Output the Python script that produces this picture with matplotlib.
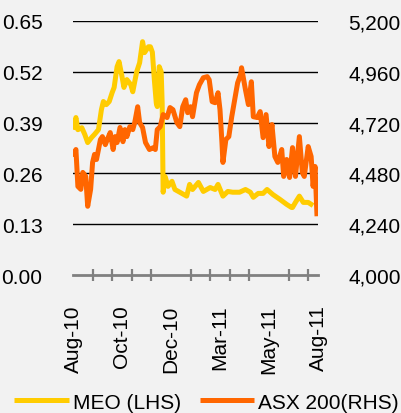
import matplotlib
matplotlib.use('Agg')
import matplotlib.pyplot as plt
import numpy as np

plt.rcParams['font.family'] = ['Liberation Sans', 'DejaVu Sans']

# trading-day index (0 = early Aug-10) and values
meo_day = [0, 3, 5, 9, 12, 15, 19, 22, 26, 29, 31, 34, 37, 40, 42, 45, 47, 50, 52, 55,
           59, 61, 65, 68, 71, 73, 77, 79, 81, 83, 85, 86, 87, 88, 90, 91, 92, 94, 97,
           101, 104, 109, 116, 119, 122, 128, 133, 140, 145, 148, 153, 158, 163, 170,
           176, 181, 184, 189, 194, 198, 204, 211, 218, 223, 224, 227, 231, 235, 240, 245]
meo_val = [0.372, 0.403, 0.372, 0.377, 0.360, 0.339, 0.352, 0.360, 0.372, 0.423, 0.444,
           0.436, 0.444, 0.467, 0.480, 0.533, 0.546, 0.508, 0.480, 0.500, 0.487, 0.469,
           0.520, 0.543, 0.597, 0.569, 0.584, 0.584, 0.570, 0.500, 0.440, 0.431, 0.470,
           0.533, 0.520, 0.440, 0.212, 0.252, 0.227, 0.240, 0.219, 0.212, 0.202, 0.232,
           0.219, 0.237, 0.214, 0.224, 0.219, 0.232, 0.202, 0.214, 0.212, 0.212, 0.219,
           0.212, 0.199, 0.209, 0.209, 0.219, 0.206, 0.194, 0.181, 0.173, 0.173, 0.186,
           0.202, 0.186, 0.186, 0.178]

asx_day = [0, 3, 5, 8, 10, 13, 15, 18, 20, 22, 24, 28, 30, 33, 35, 38, 41, 43, 45, 48,
           51, 53, 55, 58, 61, 63, 66, 68, 71, 74, 78, 82, 84, 86, 89, 92, 96, 99, 102,
           106, 109, 112, 115, 117, 120, 122, 126, 129, 133, 137, 139, 142, 145, 148,
           150, 152, 153, 156, 159, 162, 165, 168, 171, 172, 176, 179, 182, 184, 188,
           191, 194, 197, 200, 203, 206, 209, 213, 215, 218, 221, 224, 227, 231, 234,
           236, 240, 243, 245, 247, 249]
asx_val = [4560, 4593, 4419, 4405, 4485, 4466, 4325, 4405, 4532, 4570, 4546, 4640, 4654,
           4616, 4640, 4673, 4593, 4654, 4626, 4697, 4630, 4687, 4654, 4701, 4687, 4720,
           4795, 4720, 4697, 4626, 4593, 4602, 4593, 4687, 4701, 4758, 4744, 4791, 4781,
           4720, 4701, 4795, 4828, 4767, 4795, 4748, 4861, 4899, 4932, 4937, 4922, 4819,
           4814, 4861, 4781, 4626, 4532, 4640, 4654, 4748, 4828, 4908, 4946, 4979, 4875,
           4805, 4913, 4748, 4744, 4772, 4649, 4758, 4607, 4711, 4560, 4532, 4593, 4466,
           4546, 4461, 4602, 4466, 4654, 4485, 4466, 4607, 4560, 4419, 4513, 4278]

label_day = [0, 50, 100, 150, 200, 250]
label_txt = ['Aug-10', 'Oct-10', 'Dec-10', 'Mar-11', 'May-11', 'Aug-11']
tick_day = list(range(0, 241, 20))

left_ticks = [0.00, 0.13, 0.26, 0.39, 0.52, 0.65]
right_ticks = [4000, 4240, 4480, 4720, 4960, 5200]

bg = '#f2f2f2'
fs = 15

fig = plt.figure(figsize=(4.01, 4.14), dpi=100, facecolor=bg)
ax = fig.add_axes([0.182, 0.333, 0.611, 0.614])
ax.set_facecolor(bg)

ax.plot(meo_day, meo_val, color='#FFCC00', lw=3.6, label='MEO (LHS)',
        solid_joinstyle='round', solid_capstyle='butt')
ax.set_ylim(0, 0.65)
ax.set_xlim(0, 250)
ax.set_yticks(left_ticks)
ax.set_yticklabels([f'{v:.2f}' for v in left_ticks])
for v in left_ticks[1:]:
    ax.axhline(v, color='black', lw=1.0, zorder=0.5)

ax2 = ax.twinx()
ax2.plot(asx_day, asx_val, color='#FF6600', lw=3.6, label='ASX 200(RHS)',
         solid_joinstyle='round', solid_capstyle='butt')
ax2.set_ylim(4000, 5200)
ax2.set_yticks(right_ticks)
ax2.set_yticklabels([f'{v:,}' for v in right_ticks])

for a in (ax, ax2):
    for s in ('top', 'left', 'right', 'bottom'):
        a.spines[s].set_visible(False)
    a.tick_params(axis='y', length=0, labelsize=fs, colors='black', pad=22)

ax.spines['bottom'].set_visible(True)
ax.spines['bottom'].set_color('#808080')
ax.spines['bottom'].set_linewidth(2)
ax.set_xticks(label_day)
ax.set_xticklabels(label_txt, rotation=90)
ax.tick_params(axis='x', which='major', length=0, labelsize=fs, pad=21)
ax.set_xticks(tick_day, minor=True)
ax.tick_params(axis='x', which='minor', direction='inout', length=9, width=1.6, color='#808080')

h1, l1 = ax.get_legend_handles_labels()
h2, l2 = ax2.get_legend_handles_labels()
fig.legend(h1 + h2, l1 + l2, loc='lower center', bbox_to_anchor=(0.515, -0.042), ncol=2,
           frameon=False, fontsize=fs, handlelength=2.6, handletextpad=0.2,
           columnspacing=0.9)

fig.savefig('out.png', dpi=100, facecolor=bg)
